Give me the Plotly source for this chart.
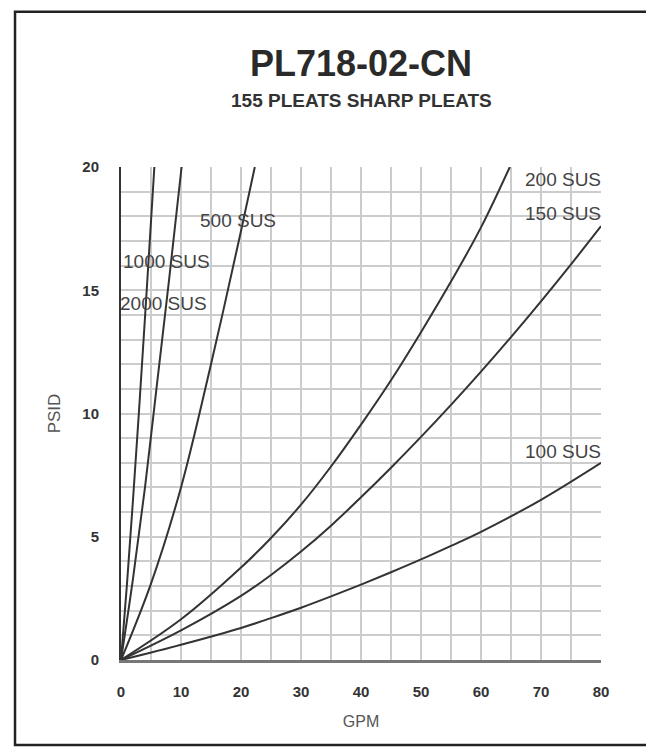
import plotly.graph_objects as go

# ---- data ----
series_names = ["100 SUS", "150 SUS", "200 SUS", "500 SUS", "1000 SUS", "2000 SUS"]

gpm_100 = [0, 10, 20, 25, 30, 35, 40, 45, 50, 55, 60, 70, 80]
psid_100 = [0, 0.62, 1.3, 1.7, 2.12, 2.58, 3.06, 3.56, 4.08, 4.63, 5.2, 6.5, 8.0]

gpm_150 = [0, 10, 20, 25, 30, 35, 40, 45, 50, 55, 60, 65, 70, 75, 80]
psid_150 = [0, 1.2, 2.6, 3.45, 4.4, 5.45, 6.6, 7.8, 9.05, 10.35, 11.7, 13.1, 14.55, 16.05, 17.6]

gpm_200 = [0, 10, 20, 25, 30, 35, 40, 45, 50, 55, 60, 64.8]
psid_200 = [0, 1.65, 3.75, 4.95, 6.3, 7.85, 9.55, 11.35, 13.3, 15.35, 17.55, 20.0]

gpm_500 = [0, 5, 10, 15, 20, 22.3]
psid_500 = [0, 3.1, 7.0, 12.0, 17.4, 20.0]

gpm_1000 = [0, 2, 4, 6, 8, 10.1]
psid_1000 = [0, 3.3, 7.0, 11.2, 15.4, 20.0]

gpm_2000 = [0, 1, 2, 3, 4, 5, 5.56]
psid_2000 = [0, 3.1, 6.5, 10.1, 13.9, 17.8, 20.0]

x_ticks = [0, 10, 20, 30, 40, 50, 60, 70, 80]
y_ticks = [0, 5, 10, 15, 20]

title_text = "PL718-02-CN"
subtitle_text = "155 PLEATS SHARP PLEATS"
x_title = "GPM"
y_title = "PSID"

xs = [gpm_100, gpm_150, gpm_200, gpm_500, gpm_1000, gpm_2000]
ys = [psid_100, psid_150, psid_200, psid_500, psid_1000, psid_2000]

# label placement (layout, in data units)
label_pos = {
    "100 SUS": (80, 8.45, "right"),
    "150 SUS": (80, 18.1, "right"),
    "200 SUS": (80, 19.5, "right"),
    "500 SUS": (13.3, 17.85, "left"),
    "1000 SUS": (0.5, 16.15, "left"),
    "2000 SUS": (0.0, 14.45, "left"),
}

FONT = "Liberation Sans, Arial, sans-serif"
fig = go.Figure()
for name, x, y in zip(series_names, xs, ys):
    fig.add_trace(go.Scatter(x=x, y=y, mode="lines", name=name,
                             line=dict(color="#333333", width=2, shape="spline", smoothing=1.0),
                             showlegend=False, hoverinfo="x+y+name"))

for name in series_names:
    lx, ly, anc = label_pos[name]
    fig.add_annotation(x=lx, y=ly, xref="x", yref="y", text=name, showarrow=False,
                       xanchor=anc, yanchor="middle", xshift=(-3 if anc == "left" else 2),
                       font=dict(family=FONT, size=19, color="#444444"))

fig.add_annotation(x=0.5, y=1.21, xref="paper", yref="paper", text=title_text,
                   showarrow=False, xanchor="center", yanchor="middle",
                   font=dict(family=FONT, size=36, color="#2a2a2a", weight="bold"))
fig.add_annotation(x=0.5, y=1.1357, xref="paper", yref="paper", text=subtitle_text,
                   showarrow=False, xanchor="center", yanchor="middle",
                   font=dict(family=FONT, size=19, color="#333333", weight="bold"))

# outer frame
fig.add_shape(type="rect", xref="paper", yref="paper",
              x0=-0.2208, x1=1.1, y0=-0.1726, y1=1.3147,
              line=dict(color="#222222", width=2.5), fillcolor="rgba(0,0,0,0)", layer="below")

grid_col = "#cccccc"
fig.update_xaxes(range=[0, 80], tickvals=x_ticks, showgrid=True, gridcolor=grid_col, gridwidth=1.5,
                 minor=dict(dtick=5, showgrid=True, gridcolor=grid_col, gridwidth=1.5),
                 showline=True, linecolor="#777777", linewidth=3, zeroline=False,
                 ticks="", ticklabelstandoff=16,
                 tickfont=dict(family=FONT, size=15, color="#333333", weight="bold"),
                 title=dict(text=x_title, standoff=17,
                            font=dict(family=FONT, size=16, color="#555555")))
fig.update_yaxes(range=[0, 20], tickvals=y_ticks, showgrid=True, gridcolor=grid_col, gridwidth=1.5,
                 minor=dict(dtick=1, showgrid=True, gridcolor=grid_col, gridwidth=1.5),
                 showline=True, linecolor="#333333", linewidth=2, zeroline=False,
                 ticks="", ticklabelstandoff=17,
                 tickfont=dict(family=FONT, size=15, color="#333333", weight="bold"),
                 title=dict(text=y_title, standoff=17,
                            font=dict(family=FONT, size=17, color="#555555")))

fig.update_layout(width=654, height=752, autosize=False,
                  margin=dict(l=113, r=61, t=159, b=100),
                  paper_bgcolor="white", plot_bgcolor="white")

fig.write_html("out.html")
